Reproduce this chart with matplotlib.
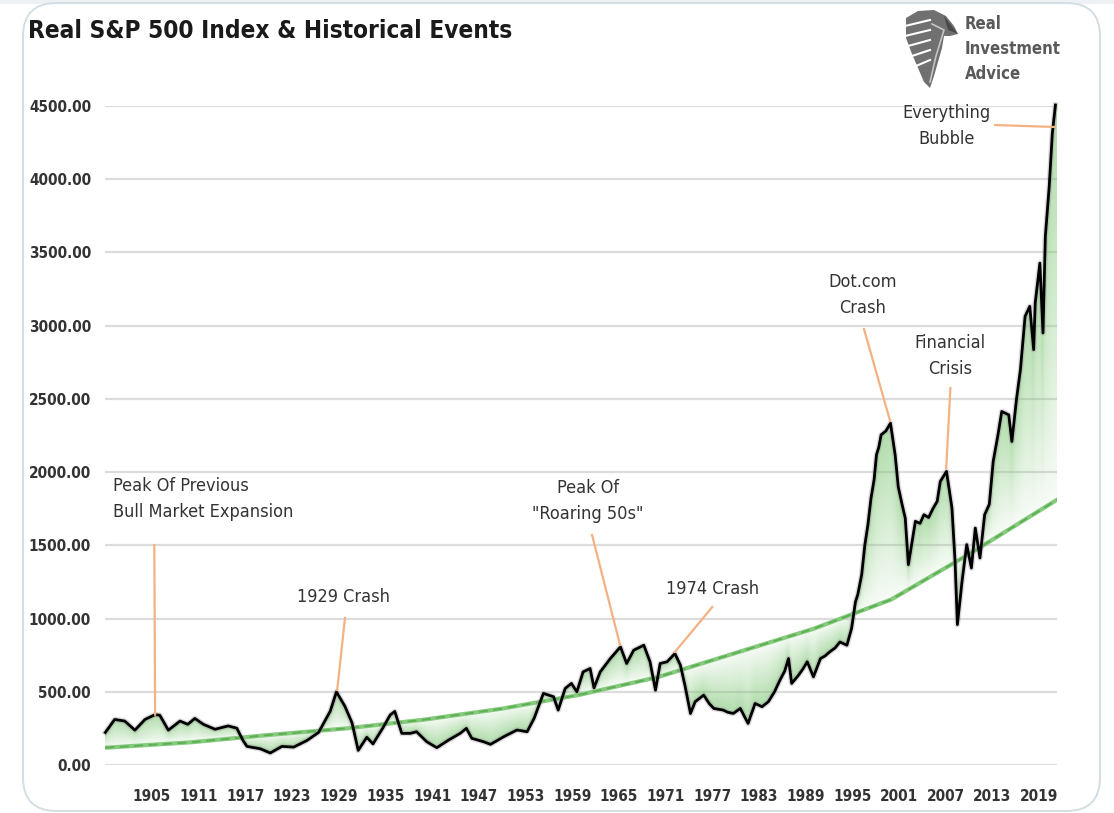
import numpy as np
import matplotlib
matplotlib.use("Agg")
import matplotlib.pyplot as plt
from matplotlib.patches import FancyBboxPatch, Polygon, Rectangle

W, H = 1114, 813
NARROW = ["DejaVu Sans"]
STRETCH = "condensed"

# real S&P 500
years = [1899.0, 1900.2, 1901.5, 1902.8, 1904.1, 1905.4, 1906.0, 1907.1,
         1908.6, 1909.6, 1910.5, 1911.6, 1913.1, 1914.8, 1915.9, 1916.7,
         1917.2, 1918.9, 1920.2, 1921.7, 1923.2, 1924.9, 1926.4, 1927.9,
         1928.7, 1929.8, 1930.7, 1931.5, 1932.6, 1933.4, 1934.7, 1935.6,
         1936.2, 1937.1, 1938.2, 1939.0, 1940.3, 1941.6, 1943.1, 1944.6,
         1945.4, 1946.1, 1947.6, 1948.5, 1950.2, 1951.9, 1953.2, 1954.1,
         1955.3, 1956.6, 1957.2, 1958.1, 1958.9, 1959.6, 1960.4, 1961.3,
         1961.8, 1962.6, 1963.9, 1965.2, 1966.0, 1966.9, 1968.2, 1969.0,
         1969.7, 1970.3, 1971.2, 1972.2, 1972.9, 1973.5, 1974.2, 1974.8,
         1975.9, 1976.6, 1977.2, 1978.4, 1979.0, 1979.7, 1980.6, 1981.6,
         1982.5, 1983.4, 1984.2, 1985.0, 1985.7, 1986.3, 1986.8, 1987.2,
         1988.1, 1988.7, 1989.2, 1990.0, 1990.9, 1991.5, 1992.1, 1992.8,
         1993.4, 1994.3, 1994.9, 1995.4, 1995.7, 1996.2, 1996.6, 1997.0,
         1997.4, 1997.8, 1998.1, 1998.4, 1998.7, 1999.3, 1999.9, 2000.5,
         2000.9, 2001.4, 2001.8, 2002.2, 2002.6, 2003.1, 2003.7, 2004.2,
         2004.8, 2005.4, 2005.9, 2006.3, 2007.1, 2007.8, 2008.2, 2008.5,
         2009.1, 2009.7, 2010.3, 2010.8, 2011.4, 2012.0, 2012.6, 2013.1,
         2013.7, 2014.2, 2015.1, 2015.5, 2016.1, 2016.6, 2017.2, 2017.8,
         2018.3, 2018.5, 2019.1, 2019.5, 2019.8, 2020.3, 2020.7, 2021.1]
real_index = [222, 311, 300, 238, 311, 344, 340, 238,
              300, 278, 318, 278, 244, 267, 251, 167,
              127, 111, 82, 127, 122, 167, 222, 367,
              500, 400, 289, 100, 189, 144, 256, 341,
              366, 216, 216, 227, 159, 118, 170, 216,
              250, 182, 159, 141, 193, 239, 227, 318,
              489, 466, 375, 523, 557, 500, 636, 659,
              527, 636, 727, 807, 693, 784, 818, 705,
              511, 693, 705, 761, 682, 540, 352, 432,
              477, 420, 386, 375, 360, 352, 386, 284,
              420, 398, 432, 500, 580, 640, 727, 557,
              614, 660, 705, 602, 727, 745, 773, 800,
              840, 818, 932, 1114, 1164, 1300, 1500, 1640,
              1823, 1950, 2118, 2170, 2255, 2280, 2334, 2118,
              1900, 1777, 1686, 1368, 1500, 1664, 1650, 1709,
              1690, 1755, 1800, 1936, 2005, 1755, 1391, 959,
              1255, 1505, 1345, 1618, 1414, 1709, 1780, 2073,
              2250, 2414, 2391, 2209, 2500, 2700, 3064, 3132,
              2836, 3155, 3427, 2950, 3609, 3950, 4314, 4507]

# exponential trend line
trend_years = [1899, 1910, 1920, 1930, 1940, 1950, 1960, 1970,
               1980, 1990, 2000, 2010, 2021.3]
trend_values = [118, 155, 205, 250, 310, 385, 480, 600,
                765, 930, 1130, 1440, 1811]

tick_years = [1905, 1911, 1917, 1923, 1929, 1935, 1941, 1947, 1953, 1959,
              1965, 1971, 1977, 1983, 1989, 1995, 2001, 2007, 2013, 2019]
y_ticks = [0, 500, 1000, 1500, 2000, 2500, 3000, 3500, 4000, 4500]

events = [("Peak Of Previous\nBull Market Expansion", 1900.0, 1816, "left",
           (1905.3, 1502), (1905.4, 344)),
          ("1929 Crash", 1929.55, 1147, "center",
           (1929.8, 1004), (1928.8, 512)),
          ("Peak Of\n\"Roaring 50s\"", 1961.0, 1803, "center",
           (1961.55, 1571), (1965.15, 819)),
          ("1974 Crash", 1977.0, 1202, "center",
           (1977.0, 1079), (1972.2, 772)),
          ("Dot.com\nCrash", 1996.3, 3209, "center",
           (1996.5, 2977), (1999.85, 2349)),
          ("Financial\nCrisis", 2007.6, 2793, "center",
           (2007.6, 2574), (2007.06, 2028)),
          ("Everything\nBubble", 2007.1, 4364, "center",
           (2013.35, 4370), (2020.94, 4357))]

GREEN = np.array([120, 195, 110]) / 255.0
ORANGE = "#f4b183"


def px(x, y):
    return (x / W, 1 - y / H)


def gradient_fill(ax, xlim, ylim):
    xs = np.linspace(xlim[0], xlim[1], 1400)
    ys = np.linspace(ylim[0], ylim[1], 1000)
    p = np.interp(xs, years, real_index)
    t = np.interp(xs, trend_years, trend_values)
    P, Y = np.meshgrid(p, ys)
    T, _ = np.meshgrid(t, ys)
    lo = np.minimum(P, T)
    hi = np.maximum(P, T)
    inside = (Y >= lo) & (Y <= hi)
    d = np.where(np.abs(P - T) < 1e-6, 1e-6, P - T)
    frac = np.clip((Y - T) / d, 0, 1)
    rgba = np.zeros(Y.shape + (4,))
    rgba[..., :3] = GREEN
    rgba[..., 3] = np.where(inside, 0.06 + 0.52 * frac, 0)
    ax.imshow(rgba, extent=[xlim[0], xlim[1], ylim[0], ylim[1]],
              origin="lower", aspect="auto", interpolation="bilinear",
              zorder=1)


def logo(fig):
    lax = fig.add_axes([900 / W, 1 - 90 / H, 60 / W, 84 / H])
    lax.set_xlim(0, 60)
    lax.set_ylim(84, 0)
    lax.axis("off")
    head = [(6, 12), (18, 5), (34, 4), (46, 10), (54, 20), (58, 28),
            (50, 30), (44, 30), (42, 42), (38, 56), (34, 70), (30, 82),
            (24, 76), (18, 62), (12, 48), (6, 32)]
    lax.add_patch(Polygon(head, closed=True, facecolor="#707070",
                          edgecolor="none"))
    for (a, b) in [((5, 20), (30, 14)), ((5, 30), (30, 24)),
                   ((8, 40), (30, 34)), ((12, 50), (30, 44)),
                   ((16, 60), (30, 54))]:
        lax.plot([a[0], b[0]], [a[1], b[1]], color="white", lw=1.5)
    lax.plot([32, 44, 36, 30], [18, 24, 50, 76], color="#c4c4c4", lw=1.2)
    lax.add_patch(Polygon([(44, 10), (58, 28), (48, 24)], closed=True,
                          facecolor="#4a4a4a", edgecolor="none"))
    fig.text(*px(965, 49), "Real\nInvestment\nAdvice", family=NARROW,
             stretch=STRETCH, fontsize=12, fontweight="bold",
             color="#5a5a5a", ha="left", va="center", linespacing=1.5)


def main():
    fig = plt.figure(figsize=(W / 100, H / 100), dpi=100)
    fig.patch.set_facecolor("white")
    band = Rectangle((0, 1 - 4 / H), 1, 4 / H, transform=fig.transFigure,
                     facecolor="#eef1f3", edgecolor="none", zorder=-2)
    card = FancyBboxPatch(
        (23 / W, 1 - 811 / H), 1077 / W, 808 / H,
        boxstyle="round,pad=0,rounding_size=0.03",
        transform=fig.transFigure, facecolor="white",
        edgecolor="#d3dee4", lw=1.4, mutation_aspect=W / H, zorder=-1)
    fig.patches.extend([band, card])

    fig.text(*px(28, 31), "Real S&P 500 Index & Historical Events",
             family=NARROW, stretch=STRETCH, fontsize=17.5,
             fontweight="bold", color="#1a1a1a", ha="left", va="center")
    logo(fig)

    ax = fig.add_axes([105 / W, (H - 765) / H, (1057 - 105) / W,
                       (765 - 106) / H])
    ax.set_facecolor("none")
    xlim = (1898.96, 2021.3)
    ax.set_xlim(*xlim)
    ax.set_ylim(0, 4500)
    for s in ax.spines.values():
        s.set_visible(False)
    ax.set_yticks(y_ticks)
    ax.set_yticklabels(["%.2f" % v for v in y_ticks])
    ax.set_xticks(tick_years)
    ax.set_xticklabels([str(y) for y in tick_years])
    ax.tick_params(length=0, colors="#333333")
    ax.tick_params(axis="y", pad=10)
    ax.tick_params(axis="x", pad=17)
    for lab in ax.get_xticklabels() + ax.get_yticklabels():
        lab.set_family(NARROW)
        lab.set_stretch(STRETCH)
        lab.set_fontweight("bold")
        lab.set_fontsize(11)
    ax.grid(axis="y", color="#dcdcdc", lw=1.6, zorder=0)
    ax.set_axisbelow(True)

    gradient_fill(ax, xlim, (0, 4600))

    ax.plot(trend_years, trend_values, color="#86ca7e", lw=3, zorder=2)
    ax.plot(trend_years, trend_values, color="#5cae52", lw=1.3,
            dashes=(5, 3), zorder=2)
    ax.plot(years, real_index, color="#999999", lw=4, alpha=0.35,
            zorder=3, clip_on=False, solid_joinstyle="round")
    ax.plot(years, real_index, color="black", lw=2.0, zorder=4,
            clip_on=False, solid_joinstyle="round")

    for label, tx, ty, ha, p1, p2 in events:
        ax.plot([p1[0], p2[0]], [p1[1], p2[1]], color=ORANGE, lw=1.6,
                zorder=5, clip_on=False)
        ax.text(tx, ty, label, ha=ha, va="center", family=NARROW,
                stretch=STRETCH, fontsize=13, color="#333333",
                linespacing=1.6, zorder=6)

    fig.savefig("out.png", dpi=100)


if __name__ == "__main__":
    main()
